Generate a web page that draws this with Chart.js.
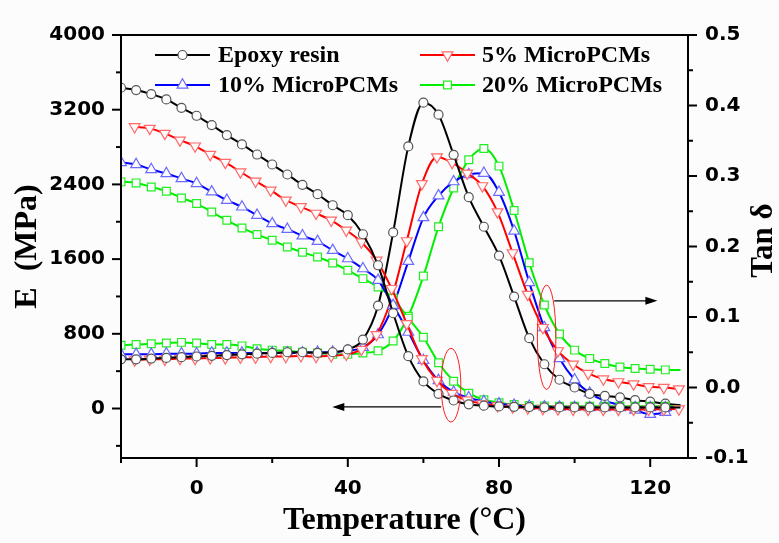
<!DOCTYPE html>
<html>
<head>
<meta charset="utf-8">
<script src="https://cdn.jsdelivr.net/npm/chart.js@4/dist/chart.umd.min.js"></script>
<style>
  html, body { margin: 0; padding: 0; background: #fcfcfc; }
  #wrap { width: 779px; height: 543px; }
</style>
</head>
<body>
<div id="wrap"><canvas id="c" width="779" height="543"></canvas></div>
<script>
// ---------------- DATA ----------------
const seriesNames = ['Epoxy resin', '5% MicroPCMs', '10% MicroPCMs', '20% MicroPCMs'];

// temperature grid for epoxy, 10% and 20% (°C)
const tempA = [-20, -16, -12, -8, -4, 0, 4, 8, 12, 16, 20, 24, 28, 32, 36, 40, 44, 48, 52, 56,
               60, 64, 68, 72, 76, 80, 84, 88, 92, 96, 100, 104, 108, 112, 116, 120, 124, 128];
// temperature grid for 5% (°C)
const temp5 = [-16.4, -12.4, -8.4, -4.4, -0.4, 3.6, 7.6, 11.6, 15.6, 19.6, 23.6, 27.6, 31.6, 35.6,
               39.6, 43.6, 47.6, 51.6, 55.6, 59.6, 63.6, 67.6, 71.6, 75.6, 79.6, 83.6, 87.6, 91.6,
               95.6, 99.6, 103.6, 107.6, 111.6, 115.6, 119.6, 123.6, 127.6];

// storage modulus E (MPa)
const eEpoxy = [3435, 3410, 3367, 3310, 3220, 3135, 3035, 2928, 2828, 2720, 2613, 2506, 2395, 2295,
                2177, 2070, 1866, 1534, 1020, 560, 290, 157, 86, 45, 30, 22, 18, 15, 13, 12, 12, 12,
                12, 12, 12, 12, 12, 12];
const e5 = [3017, 3000, 2946, 2874, 2810, 2720, 2635, 2534, 2434, 2338, 2231, 2160, 2090, 2016,
            1909, 1783, 1587, 1284, 908, 533, 300, 160, 90, 50, 30, 15, 5, 0, -5, -8, -10, -10,
            -10, -10, -10, -8, -5];
const e10 = [2635, 2613, 2560, 2517, 2463, 2410, 2320, 2231, 2159, 2070, 1981, 1920, 1850, 1790,
             1694, 1605, 1498, 1373, 1105, 818, 515, 300, 175, 115, 75, 50, 35, 25, 18, 15, 12, 10,
             10, 10, 10, 10, 10, 10];
const e20 = [2427, 2416, 2373, 2327, 2255, 2195, 2105, 2016, 1934, 1863, 1802, 1730, 1673, 1622,
             1558, 1480, 1391, 1301, 1180, 968, 763, 490, 292, 164, 93, 62, 43, 32, 28, 25, 25, 25,
             25, 25, 25, 25, 25, 25];

// loss factor tan δ
const tanEpoxy = [0.040, 0.040, 0.041, 0.042, 0.043, 0.044, 0.045, 0.046, 0.047, 0.048, 0.049, 0.050,
                  0.050, 0.049, 0.050, 0.054, 0.068, 0.116, 0.220, 0.342, 0.404, 0.387, 0.330, 0.270,
                  0.228, 0.187, 0.129, 0.070, 0.033, 0.011, 0.000, -0.009, -0.012, -0.014, -0.018,
                  -0.020, -0.023, -0.025];
const tan5 = [0.039, 0.040, 0.040, 0.041, 0.041, 0.042, 0.042, 0.043, 0.043, 0.044, 0.044, 0.045,
              0.044, 0.045, 0.047, 0.054, 0.075, 0.127, 0.208, 0.289, 0.327, 0.319, 0.304, 0.286,
              0.249, 0.191, 0.132, 0.085, 0.052, 0.033, 0.020, 0.012, 0.008, 0.005, 0.001, 0.000,
              -0.002];
const tan10 = [0.047, 0.047, 0.047, 0.048, 0.048, 0.048, 0.049, 0.049, 0.049, 0.049, 0.049, 0.049,
               0.049, 0.050, 0.050, 0.052, 0.057, 0.075, 0.116, 0.179, 0.241, 0.272, 0.292, 0.302,
               0.304, 0.277, 0.222, 0.149, 0.085, 0.041, 0.011, -0.008, -0.019, -0.025, -0.032,
               -0.038, -0.035, -0.025];
const tan20 = [0.060, 0.061, 0.062, 0.063, 0.064, 0.063, 0.061, 0.061, 0.059, 0.055, 0.053, 0.052,
               0.050, 0.049, 0.047, 0.047, 0.049, 0.052, 0.066, 0.101, 0.158, 0.228, 0.283, 0.323,
               0.339, 0.314, 0.251, 0.177, 0.117, 0.076, 0.053, 0.041, 0.034, 0.029, 0.027, 0.026,
               0.025, 0.025];

// axis ticks
const tempTicks = [0, 40, 80, 120];
const tempMinor = [-20, 20, 60, 100];
const eTicks = [0, 800, 1600, 2400, 3200, 4000];
const eMinor = [-400, 400, 1200, 2000, 2800, 3600];
const tanTicks = [-0.1, 0.0, 0.1, 0.2, 0.3, 0.4, 0.5];
const tanMinor = [-0.05, 0.05, 0.15, 0.25, 0.35, 0.45];

// annotations (data units)
const ellipseE = { x: 67.3, y: 250, rx: 2.6, ry: 395 };     // on E axis
const ellipseTan = { x: 92.6, y: 0.0713, rx: 2.45, ry: 0.074 }; // on tan axis
const arrowE = { from: 64.7, to: 35.9, y: 17 };
const arrowTan = { from: 94.6, to: 121.9, y: 0.123 };

// ---------------- STYLES ----------------
const styles = [
  { line: '#000000', edge: '#555555', shape: 'circle', r: 4.5, rot: 0 },
  { line: '#ff0000', edge: '#ff6a6a', shape: 'triangle', r: 6.2, rot: 180 },
  { line: '#0000ff', edge: '#6a6aff', shape: 'triangle', r: 6.2, rot: 0 },
  { line: '#00ee00', edge: '#22ee22', shape: 'rect', r: 5.5, rot: 0 }
];
const BG = '#fcfcfc';

function pts(xs, ys) { return xs.map((t, i) => ({ x: t, y: ys[i] })); }

const eSeries = [[tempA, eEpoxy], [temp5, e5], [tempA, e10], [tempA, e20]];
const tanSeries = [[tempA, tanEpoxy], [temp5, tan5], [tempA, tan10], [tempA, tan20]];

function makeDataset(idx, pair, axis) {
  const s = styles[idx];
  const xs = pair[0];
  return {
    label: seriesNames[idx] + (axis === 'y' ? ' (E)' : ' (tan δ)'),
    data: pts(xs, pair[1]),
    yAxisID: axis,
    borderColor: s.line,
    borderWidth: 2,
    pointStyle: s.shape,
    pointRotation: s.rot,
    pointRadius: xs.map(t => (t > 126 && idx !== 1) ? 0 : s.r),
    pointBorderColor: s.edge,
    pointBackgroundColor: BG,
    pointBorderWidth: 1.2,
    cubicInterpolationMode: 'monotone',
    fill: false
  };
}

const datasets = [];
for (let i = 0; i < 4; i++) datasets.push(makeDataset(i, eSeries[i], 'y'));
for (let i = 0; i < 4; i++) datasets.push(makeDataset(i, tanSeries[i], 'y1'));

const tickFont = { family: 'DejaVu Sans', weight: 'bold', size: 20 };
const titleFont = { family: 'Liberation Serif', weight: 'bold', size: 32 };

const decor = {
  id: 'decor',
  beforeDraw(chart) {
    const ctx = chart.ctx;
    ctx.save();
    ctx.fillStyle = BG;
    ctx.fillRect(0, 0, chart.width, chart.height);
    ctx.restore();
  },
  afterDraw(chart) {
    const { ctx, chartArea: a, scales } = chart;
    const x = scales.x, y = scales.y, y1 = scales.y1;
    ctx.save();
    ctx.strokeStyle = '#000';
    ctx.lineWidth = 2;
    ctx.strokeRect(a.left, a.top, a.right - a.left, a.bottom - a.top);

    function seg(x0, y0, x1, yy1) { ctx.beginPath(); ctx.moveTo(x0, y0); ctx.lineTo(x1, yy1); ctx.stroke(); }
    eTicks.forEach(v => { const p = y.getPixelForValue(v); seg(a.left, p, a.left - 9, p); });
    eMinor.forEach(v => { const p = y.getPixelForValue(v); seg(a.left, p, a.left - 5, p); });
    tanTicks.forEach(v => { const p = y1.getPixelForValue(v); seg(a.right, p, a.right + 9, p); });
    tanMinor.forEach(v => { const p = y1.getPixelForValue(v); seg(a.right, p, a.right + 5, p); });
    tempTicks.forEach(v => { const p = x.getPixelForValue(v); seg(p, a.bottom, p, a.bottom + 9); });
    tempMinor.forEach(v => { const p = x.getPixelForValue(v); seg(p, a.bottom, p, a.bottom + 5); });

    // right axis title (reads bottom to top)
    ctx.save();
    ctx.fillStyle = '#000';
    ctx.font = 'bold 31px "Liberation Serif"';
    ctx.textAlign = 'center';
    ctx.textBaseline = 'middle';
    ctx.translate(764, (a.top + a.bottom) / 2 - 6);
    ctx.rotate(-Math.PI / 2);
    ctx.fillText('Tan δ', 0, 0);
    ctx.restore();

    // ellipses
    ctx.strokeStyle = '#ff2020';
    ctx.lineWidth = 1;
    function ell(e, sc) {
      const cx = x.getPixelForValue(e.x), cy = sc.getPixelForValue(e.y);
      const rx = Math.abs(x.getPixelForValue(e.x + e.rx) - cx);
      const ry = Math.abs(sc.getPixelForValue(e.y + e.ry) - cy);
      ctx.beginPath(); ctx.ellipse(cx, cy, rx, ry, 0, 0, Math.PI * 2); ctx.stroke();
    }
    ell(ellipseE, y);
    ell(ellipseTan, y1);

    // arrows
    ctx.strokeStyle = '#000';
    ctx.fillStyle = '#000';
    ctx.lineWidth = 1.3;
    function arrow(ar, sc) {
      const x0 = x.getPixelForValue(ar.from), x1 = x.getPixelForValue(ar.to), py = sc.getPixelForValue(ar.y);
      const dir = Math.sign(x1 - x0);
      seg(x0, py, x1 - dir * 10, py);
      ctx.beginPath();
      ctx.moveTo(x1, py);
      ctx.lineTo(x1 - dir * 12, py - 4);
      ctx.lineTo(x1 - dir * 12, py + 4);
      ctx.closePath();
      ctx.fill();
    }
    arrow(arrowE, y);
    arrow(arrowTan, y1);

    // legend
    const cols = [[155, 210, 218], [420, 475, 482]];
    const rows = [55, 85];
    const order = [0, 1, 2, 3];
    ctx.font = 'bold 24px "Liberation Serif"';
    ctx.textAlign = 'left';
    ctx.textBaseline = 'middle';
    order.forEach((idx, k) => {
      const c = cols[k % 2], ry = rows[Math.floor(k / 2)];
      const s = styles[idx];
      ctx.strokeStyle = s.line; ctx.lineWidth = 2;
      seg(c[0], ry, c[1], ry);
      ctx.save();
      ctx.fillStyle = BG; ctx.strokeStyle = s.edge; ctx.lineWidth = 1.2;
      Chart.helpers.drawPoint(ctx, { pointStyle: s.shape, rotation: s.rot, radius: s.r, borderWidth: 1.2 },
        (c[0] + c[1]) / 2, ry);
      ctx.restore();
      ctx.fillStyle = '#000';
      ctx.fillText(seriesNames[idx], c[2], ry + 1);
    });
    ctx.restore();
  }
};

new Chart(document.getElementById('c'), {
  type: 'line',
  data: { datasets },
  plugins: [decor],
  options: {
    responsive: false,
    animation: false,
    devicePixelRatio: 1,
    layout: { padding: { top: 35, left: 0, right: 0, bottom: 0 } },
    plugins: { legend: { display: false }, tooltip: { enabled: false } },
    scales: {
      x: {
        type: 'linear', min: -20, max: 130,
        afterBuildTicks: s => { s.ticks = tempTicks.map(v => ({ value: v })); },
        afterFit: s => { s.height = 85; },
        grid: { display: false, drawTicks: false },
        border: { display: false },
        ticks: { font: tickFont, color: '#000', padding: 19, maxRotation: 0, autoSkip: false },
        title: { display: true, text: 'Temperature (°C)', font: titleFont, color: '#000', padding: { top: 0, bottom: 3 } }
      },
      y: {
        type: 'linear', position: 'left', min: -530, max: 4000,
        afterBuildTicks: s => { s.ticks = eTicks.map(v => ({ value: v })); },
        afterFit: s => { s.width = 121; },
        grid: { display: false, drawTicks: false },
        border: { display: false },
        ticks: { font: tickFont, color: '#000', padding: 16, autoSkip: false, callback: v => String(v) },
        title: { display: true, text: 'E  (MPa)', font: titleFont, color: '#000', padding: { top: 9, bottom: 0 } }
      },
      y1: {
        type: 'linear', position: 'right', min: -0.1, max: 0.5,
        afterBuildTicks: s => { s.ticks = tanTicks.map(v => ({ value: v })); },
        afterFit: s => { s.width = 91; },
        grid: { display: false, drawTicks: false },
        border: { display: false },
        ticks: { font: tickFont, color: '#000', padding: 17, autoSkip: false, callback: v => Number(v).toFixed(1) }
      }
    }
  }
});
</script>
</body>
</html>
